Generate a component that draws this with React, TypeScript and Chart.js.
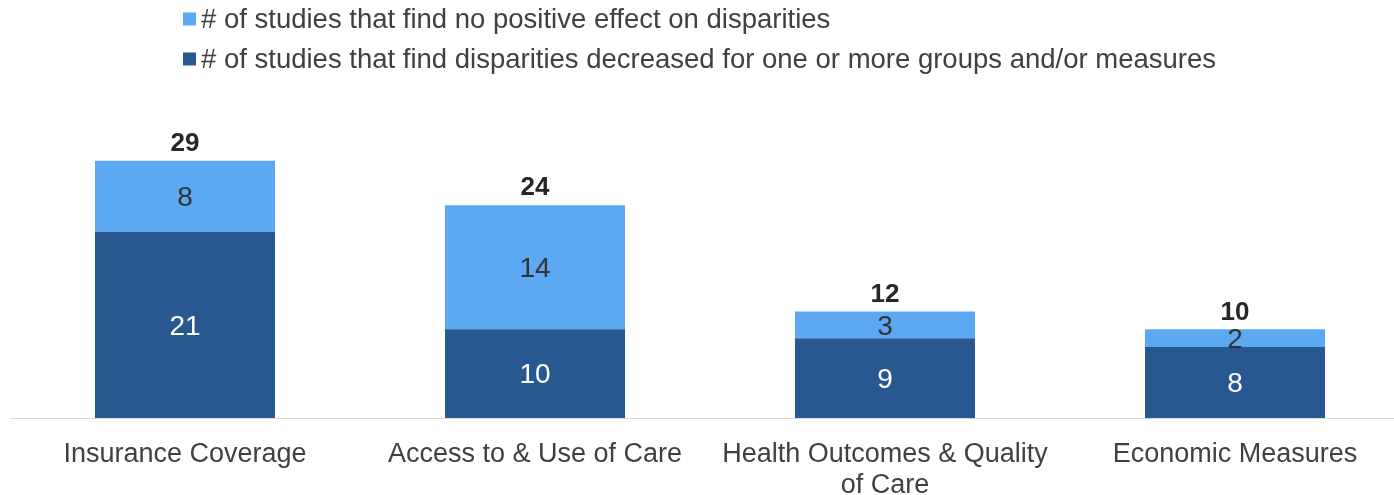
import React, { useEffect, useRef } from 'react';
import { Chart, registerables } from 'chart.js';

Chart.register(...registerables);

const categories: (string | string[])[] = [
  'Insurance Coverage',
  'Access to & Use of Care',
  ['Health Outcomes & Quality', 'of Care'],
  'Economic Measures',
];
const decreasedValues = [21, 10, 9, 8];
const noEffectValues = [8, 14, 3, 2];
const decreasedLabel = '# of studies that find disparities decreased for one or more groups and/or measures';
const noEffectLabel = '# of studies that find no positive effect on disparities';

const DARK = '#27588F';
const LIGHT = '#5CA8F2';
const TEXT = '#404040';
const FONT = '"Liberation Sans", Arial, sans-serif';

const valueLabelPlugin = {
  id: 'valueLabels',
  afterDatasetsDraw(chart: any) {
    const ctx = chart.ctx;
    ctx.save();
    ctx.textAlign = 'center';
    ctx.textBaseline = 'middle';
    chart.data.datasets.forEach((ds: any, di: number) => {
      const meta = chart.getDatasetMeta(di);
      meta.data.forEach((el: any, i: number) => {
        const v = ds.data[i];
        ctx.font = `28px ${FONT}`;
        ctx.fillStyle = di === 0 ? '#ffffff' : '#333333';
        ctx.fillText(String(v), el.x, (el.y + el.base) / 2 + 2);
      });
    });
    const topMeta = chart.getDatasetMeta(chart.data.datasets.length - 1);
    topMeta.data.forEach((el: any, i: number) => {
      const total = chart.data.datasets.reduce((s: number, ds: any) => s + ds.data[i], 0);
      ctx.font = `bold 26px ${FONT}`;
      ctx.fillStyle = '#262626';
      ctx.fillText(String(total), el.x, el.y - 17);
    });
    ctx.restore();
  },
};

const legendPlugin = {
  id: 'customLegend',
  afterDraw(chart: any) {
    const ctx = chart.ctx;
    ctx.save();
    const items = [...chart.data.datasets].reverse();
    items.forEach((ds: any, i: number) => {
      const cy = 19 + i * 40;
      ctx.fillStyle = ds.backgroundColor;
      ctx.fillRect(183, cy - 6.5, 13, 13);
      ctx.font = `27.5px ${FONT}`;
      ctx.fillStyle = TEXT;
      ctx.textAlign = 'left';
      ctx.textBaseline = 'middle';
      ctx.fillText(ds.label, 201, cy + 1);
    });
    ctx.restore();
  },
};

export default function App() {
  const ref = useRef<HTMLCanvasElement>(null);
  useEffect(() => {
    document.body.style.margin = '0';
    document.body.style.overflow = 'hidden';
    const chart = new Chart(ref.current as HTMLCanvasElement, {
      type: 'bar',
      data: {
        labels: categories as any,
        datasets: [
          { label: decreasedLabel, data: decreasedValues, backgroundColor: DARK },
          { label: noEffectLabel, data: noEffectValues, backgroundColor: LIGHT },
        ],
      },
      options: {
        responsive: false,
        animation: false,
        devicePixelRatio: 1,
        layout: { padding: { left: 10, right: 0, top: 152, bottom: 0 } },
        datasets: { bar: { barPercentage: 1, categoryPercentage: 180 / 350 } } as any,
        plugins: { legend: { display: false }, tooltip: { enabled: false } },
        scales: {
          x: {
            stacked: true,
            grid: { display: false },
            border: { display: true, color: '#d9d9d9', width: 1 },
            ticks: {
              color: TEXT,
              font: { family: FONT, size: 27, lineHeight: 1.15 },
              padding: 13,
              maxRotation: 0,
              autoSkip: false,
            },
            afterFit(scale: any) {
              scale.height = 77;
            },
          },
          y: { stacked: true, display: false, min: 0, max: 30 },
        },
      },
      plugins: [valueLabelPlugin, legendPlugin],
    });
    return () => chart.destroy();
  }, []);
  return (
    <div style={{ position: 'fixed', left: 0, top: 0, width: 1394, height: 495, overflow: 'hidden', background: '#fff' }}>
      <canvas ref={ref} width={1410} height={495} style={{ width: 1410, height: 495, display: 'block' }} />
    </div>
  );
}
